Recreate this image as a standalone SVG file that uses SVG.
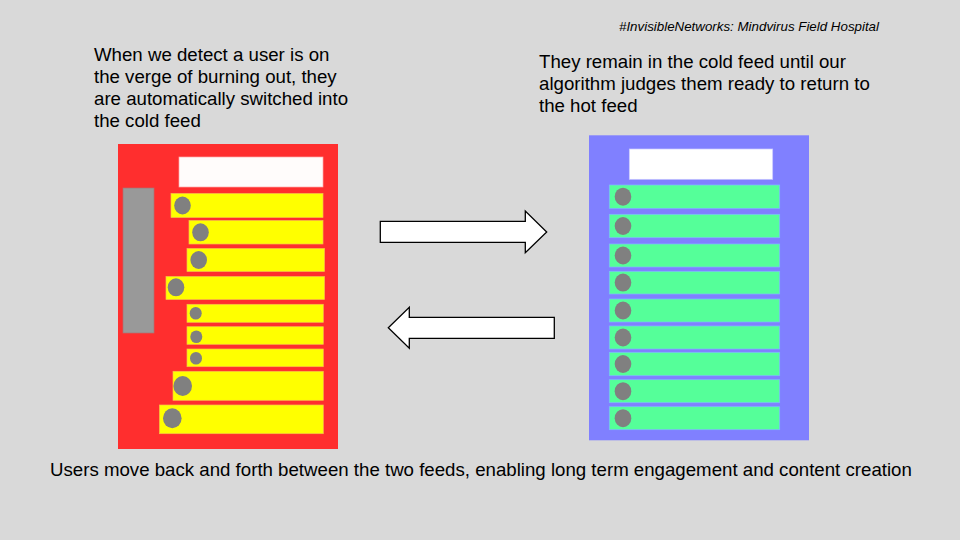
<svg xmlns="http://www.w3.org/2000/svg" width="960" height="540" viewBox="0 0 960 540">
<style>
text{font-family:"Liberation Sans",Arial,sans-serif;fill:#000}
.t{font-size:18.67px}
.h{font-size:13.33px;font-style:italic}
.yb{fill:#ffff00;stroke:#f5c04a;stroke-width:0.7}
.gb{fill:#55ff99;stroke:#7fb8ff;stroke-width:0.7}
.dot{fill:#808080}
.arr{fill:#fff;stroke:#000;stroke-width:1.3}
</style>
<rect width="960" height="540" fill="#d9d9d9"/>
<text class="h" x="619" y="31">#InvisibleNetworks: Mindvirus Field Hospital</text>
<g id="text-left">
<text class="t" x="94" y="61">When we detect a user is on</text>
<text class="t" x="94" y="83">the verge of burning out, they</text>
<text class="t" x="94" y="105">are automatically switched into</text>
<text class="t" x="94" y="127">the cold feed</text>
</g>
<g id="text-right">
<text class="t" x="539" y="68">They remain in the cold feed until our</text>
<text class="t" x="539" y="90">algorithm judges them ready to return to</text>
<text class="t" x="539" y="112">the hot feed</text>
</g>
<g id="hot-feed">
<rect x="118" y="144" width="220" height="305" fill="#ff2e2e"/>
<rect x="179" y="157" width="144" height="30" fill="#fffcfb" stroke="#ffaaaa" stroke-width="0.7"/>
<rect x="123" y="188" width="31" height="145" fill="#999999" stroke="#b07070" stroke-width="0.7"/>
<rect class="yb" x="171" y="193.5" width="152" height="24"/><ellipse class="dot" cx="182.5" cy="205.5" rx="8.3" ry="9"/>
<rect class="yb" x="189" y="220.5" width="134" height="23.5"/><ellipse class="dot" cx="200.5" cy="232.3" rx="8.3" ry="9"/>
<rect class="yb" x="187" y="248.5" width="137.5" height="23"/><ellipse class="dot" cx="198.7" cy="260" rx="8.3" ry="9"/>
<rect class="yb" x="166" y="276.5" width="158.5" height="23"/><ellipse class="dot" cx="176" cy="287.3" rx="8.3" ry="9"/>
<rect class="yb" x="187" y="304.3" width="136.3" height="18"/><ellipse class="dot" cx="195.7" cy="313.3" rx="6" ry="6.3"/>
<rect class="yb" x="187" y="326.7" width="136.3" height="17.6"/><ellipse class="dot" cx="196.3" cy="336.7" rx="6" ry="6.3"/>
<rect class="yb" x="187" y="349" width="136.3" height="17.7"/><ellipse class="dot" cx="196" cy="358.3" rx="6" ry="6.3"/>
<rect class="yb" x="173" y="371.3" width="150.3" height="29"/><ellipse class="dot" cx="182.7" cy="386" rx="9.3" ry="10"/>
<rect class="yb" x="159.5" y="405" width="163.8" height="28.7"/><ellipse class="dot" cx="172.3" cy="418.3" rx="9.3" ry="10"/>
</g>
<g id="cold-feed">
<rect x="589" y="135.3" width="220" height="305" fill="#8080ff"/>
<rect x="629.3" y="149" width="143.4" height="30.3" fill="#ffffff" stroke="#c8c8ff" stroke-width="0.7"/>
<rect class="gb" x="609.3" y="185" width="170.4" height="23.3"/><ellipse class="dot" cx="623" cy="196.7" rx="8.3" ry="9"/>
<rect class="gb" x="609.3" y="214.3" width="170.4" height="23.4"/><ellipse class="dot" cx="623" cy="226" rx="8.3" ry="9"/>
<rect class="gb" x="609.3" y="244" width="170.4" height="23"/><ellipse class="dot" cx="623" cy="255.5" rx="8.3" ry="9"/>
<rect class="gb" x="609.3" y="271.3" width="170.4" height="22.7"/><ellipse class="dot" cx="623" cy="282.6" rx="8.3" ry="9"/>
<rect class="gb" x="609.3" y="299" width="170.4" height="23"/><ellipse class="dot" cx="623" cy="310.5" rx="8.3" ry="9"/>
<rect class="gb" x="609.3" y="326" width="170.4" height="23"/><ellipse class="dot" cx="623" cy="337.5" rx="8.3" ry="9"/>
<rect class="gb" x="609.3" y="352.3" width="170.4" height="23.4"/><ellipse class="dot" cx="623" cy="364" rx="8.3" ry="9"/>
<rect class="gb" x="609.3" y="379.7" width="170.4" height="23"/><ellipse class="dot" cx="623" cy="391.2" rx="8.3" ry="9"/>
<rect class="gb" x="609.3" y="406.7" width="170.4" height="23"/><ellipse class="dot" cx="623" cy="418.2" rx="8.3" ry="9"/>
</g>
<g id="connectors">
<polygon class="arr" points="380.3,221.3 525.3,221.3 525.3,211 546.7,232 525.3,252.7 525.3,242.3 380.3,242.3"/>
<polygon class="arr" points="554.3,317.3 409.3,317.3 409.3,307.3 388.3,327.8 409.3,348.3 409.3,338.3 554.3,338.3"/>
</g>
<text class="t" x="50" y="476">Users move back and forth between the two feeds, enabling long term engagement and content creation</text>
</svg>
